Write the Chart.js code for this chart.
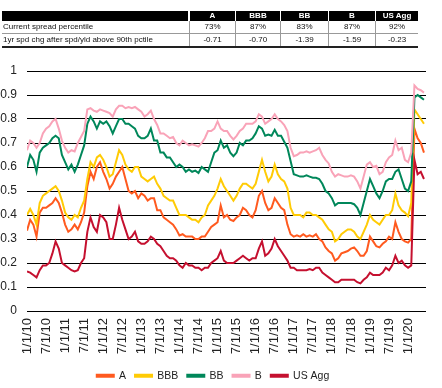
<!DOCTYPE html>
<html>
<head>
<meta charset="utf-8">
<script src="https://cdn.jsdelivr.net/npm/chart.js@4.4.1/dist/chart.umd.min.js"></script>
<style>
  html, body { margin: 0; padding: 0; background: #fff; }
  body { width: 442px; height: 388px; position: relative; overflow: hidden; font-family: "Liberation Sans", Arial, sans-serif; }
  #c { position: absolute; left: 0; top: 0; }
  .cell { position: absolute; font-size: 8px; line-height: 12px; height: 12px; color: #111; white-space: nowrap; }
  .hdr { background: #000; color: #fff; font-weight: bold; text-align: center; height: 10px; line-height: 10px; }
  .num { text-align: center; border-left: 1px solid #999; }
</style>
</head>
<body>
<canvas id="c" width="442" height="388"></canvas>
<div id="tbl"></div>
<script>
// ---- Table data ----
const tableCols = ["A", "BBB", "BB", "B", "US Agg"];
const rowLabels = ["Current spread percentile", "1yr spd chg after spd/yld above 90th pctile"];
const spreadPercentile = ["73%", "87%", "83%", "87%", "92%"];
const spreadChange = ["-0.71", "-0.70", "-1.39", "-1.59", "-0.23"];

// ---- Chart data: monthly readings, Jan 2010 .. Jun 2020 ----
const tickLabels = ["1/1/10","7/1/10","1/1/11","7/1/11","1/1/12","7/1/12","1/1/13","7/1/13","1/1/14","7/1/14",
  "1/1/15","7/1/15","1/1/16","7/1/16","1/1/17","7/1/17","1/1/18","7/1/18","1/1/19","7/1/19","1/1/20"];
const seriesNames = ["A", "BBB", "BB", "B", "US Agg"];

const valsA = [0.335,0.38,0.36,0.31,0.41,0.43,0.43,0.44,0.45,0.47,0.45,0.41,
  0.36,0.33,0.34,0.36,0.34,0.37,0.41,0.52,0.58,0.55,0.60,0.62,
  0.58,0.55,0.51,0.53,0.56,0.58,0.60,0.55,0.50,0.49,0.50,0.47,
  0.49,0.48,0.46,0.47,0.47,0.42,0.42,0.39,0.38,0.37,0.36,0.34,
  0.315,0.32,0.31,0.31,0.31,0.30,0.30,0.31,0.31,0.33,0.35,0.36,
  0.37,0.44,0.39,0.40,0.38,0.375,0.39,0.40,0.43,0.42,0.40,0.39,
  0.42,0.48,0.50,0.45,0.42,0.43,0.47,0.45,0.43,0.42,0.36,0.32,
  0.31,0.315,0.31,0.32,0.31,0.315,0.31,0.32,0.30,0.29,0.265,0.25,
  0.24,0.21,0.22,0.24,0.245,0.25,0.26,0.265,0.25,0.23,0.23,0.25,
  0.31,0.29,0.27,0.265,0.28,0.29,0.31,0.30,0.37,0.33,0.30,0.29,
  0.285,0.30,0.76,0.72,0.70,0.66];
const valsBBB = [0.40,0.425,0.40,0.36,0.45,0.48,0.49,0.50,0.51,0.52,0.50,0.46,
  0.41,0.39,0.38,0.40,0.39,0.43,0.46,0.55,0.62,0.60,0.64,0.65,
  0.63,0.60,0.56,0.57,0.62,0.67,0.65,0.61,0.59,0.58,0.60,0.60,
  0.56,0.55,0.54,0.55,0.56,0.53,0.51,0.48,0.47,0.46,0.46,0.43,
  0.40,0.40,0.40,0.39,0.38,0.38,0.37,0.39,0.40,0.44,0.46,0.48,
  0.51,0.55,0.52,0.50,0.48,0.46,0.48,0.51,0.53,0.53,0.52,0.51,
  0.53,0.58,0.63,0.58,0.54,0.56,0.61,0.57,0.55,0.54,0.51,0.43,
  0.40,0.40,0.40,0.39,0.41,0.41,0.40,0.40,0.39,0.38,0.36,0.34,
  0.33,0.29,0.30,0.32,0.33,0.34,0.34,0.33,0.31,0.30,0.33,0.36,
  0.40,0.38,0.37,0.36,0.38,0.40,0.40,0.42,0.49,0.44,0.42,0.41,
  0.395,0.45,0.84,0.82,0.80,0.78];
const valsBB = [0.60,0.65,0.63,0.58,0.66,0.68,0.69,0.70,0.72,0.73,0.72,0.65,
  0.62,0.59,0.61,0.58,0.61,0.65,0.69,0.78,0.81,0.79,0.76,0.79,
  0.78,0.79,0.77,0.74,0.77,0.80,0.80,0.78,0.78,0.77,0.76,0.73,
  0.72,0.72,0.73,0.76,0.71,0.71,0.66,0.66,0.64,0.64,0.62,0.60,
  0.61,0.60,0.58,0.59,0.58,0.585,0.575,0.60,0.59,0.58,0.62,0.66,
  0.67,0.71,0.68,0.69,0.66,0.645,0.66,0.70,0.69,0.71,0.71,0.72,
  0.74,0.77,0.76,0.73,0.735,0.73,0.755,0.73,0.73,0.705,0.68,0.625,
  0.57,0.565,0.56,0.56,0.565,0.56,0.555,0.555,0.55,0.53,0.50,0.49,
  0.47,0.44,0.45,0.45,0.45,0.45,0.45,0.445,0.43,0.40,0.45,0.50,
  0.55,0.52,0.49,0.47,0.50,0.54,0.55,0.55,0.58,0.59,0.55,0.51,
  0.50,0.54,0.89,0.90,0.89,0.88];
const valsB = [0.67,0.71,0.70,0.68,0.70,0.74,0.76,0.77,0.79,0.80,0.76,0.71,
  0.68,0.66,0.67,0.665,0.70,0.725,0.75,0.84,0.845,0.835,0.83,0.84,
  0.835,0.83,0.825,0.81,0.84,0.855,0.855,0.845,0.85,0.845,0.85,0.84,
  0.83,0.81,0.82,0.835,0.80,0.775,0.74,0.74,0.73,0.72,0.725,0.70,
  0.69,0.71,0.70,0.69,0.695,0.69,0.685,0.70,0.72,0.75,0.75,0.76,
  0.79,0.76,0.75,0.75,0.73,0.715,0.73,0.75,0.76,0.78,0.78,0.78,
  0.79,0.82,0.81,0.78,0.79,0.80,0.82,0.80,0.79,0.775,0.75,0.68,
  0.645,0.65,0.66,0.66,0.665,0.66,0.665,0.67,0.68,0.65,0.63,0.615,
  0.58,0.56,0.57,0.565,0.56,0.56,0.565,0.56,0.54,0.51,0.56,0.61,
  0.62,0.60,0.605,0.57,0.58,0.62,0.64,0.65,0.71,0.67,0.68,0.63,
  0.62,0.66,0.94,0.925,0.92,0.91];
const valsUSAgg = [0.165,0.16,0.15,0.14,0.17,0.19,0.19,0.20,0.24,0.29,0.26,0.20,
  0.19,0.18,0.17,0.165,0.17,0.20,0.22,0.33,0.39,0.35,0.33,0.40,
  0.39,0.37,0.30,0.30,0.36,0.43,0.38,0.34,0.30,0.31,0.33,0.29,
  0.28,0.28,0.29,0.31,0.30,0.28,0.27,0.25,0.23,0.22,0.22,0.21,
  0.19,0.18,0.20,0.19,0.19,0.18,0.18,0.17,0.18,0.18,0.20,0.21,
  0.22,0.25,0.21,0.20,0.20,0.20,0.21,0.22,0.23,0.22,0.21,0.22,
  0.22,0.26,0.29,0.23,0.24,0.26,0.30,0.27,0.25,0.23,0.21,0.18,
  0.18,0.17,0.17,0.17,0.17,0.175,0.17,0.18,0.18,0.16,0.15,0.14,
  0.13,0.12,0.12,0.13,0.13,0.13,0.13,0.13,0.12,0.115,0.13,0.14,
  0.16,0.15,0.15,0.15,0.16,0.18,0.17,0.19,0.23,0.20,0.21,0.19,
  0.18,0.19,0.63,0.57,0.58,0.55];

const seriesColors = ["#FF5A1F", "#FFCB05", "#00875A", "#F9A3B8", "#C5102F"];

// ---- Build table ----
(function buildTable() {
  const t = document.getElementById('tbl');
  const colLeft = [189, 235, 280, 328, 375];
  const colRight = [235, 280, 328, 375, 418];
  function add(cls, text, left, top, width, extra) {
    const d = document.createElement('div');
    d.className = 'cell ' + cls;
    d.textContent = text;
    d.style.left = left + 'px'; d.style.top = top + 'px'; d.style.width = width + 'px';
    if (extra) Object.assign(d.style, extra);
    t.appendChild(d);
  }
  add('hdr', '', 2, 11, 186);
  tableCols.forEach((c, i) => add('hdr', c, colLeft[i] + 1, 11, colRight[i] - colLeft[i] - 1));
  const rows = [spreadPercentile, spreadChange];
  rows.forEach((r, ri) => {
    const top = 21 + ri * 13;
    add('', rowLabels[ri], 2, top, 186, {paddingLeft: '1px'});
    r.forEach((v, i) => add('num', v, colLeft[i], top, colRight[i] - colLeft[i] - 1));
  });
  const sep = document.createElement('div');
  Object.assign(sep.style, {position: 'absolute', left: '2px', top: '33px', width: '416px', height: '1px', background: '#999'});
  t.appendChild(sep);
  const bot = document.createElement('div');
  Object.assign(bot.style, {position: 'absolute', left: '2px', top: '46px', width: '416px', height: '1.5px', background: '#222'});
  t.appendChild(bot);
})();

// ---- Chart ----
const allVals = [valsA, valsBBB, valsBB, valsB, valsUSAgg];
const datasets = allVals.map((vals, k) => ({
  label: seriesNames[k],
  data: vals.map((v, i) => ({ x: i / 12, y: v })),
  borderColor: seriesColors[k],
  backgroundColor: seriesColors[k],
  borderWidth: 2,
  pointRadius: 0,
  tension: 0,
  order: 4 - k
}));

new Chart(document.getElementById('c'), {
  type: 'line',
  data: { datasets },
  options: {
    responsive: false,
    animation: false,
    devicePixelRatio: 1,
    layout: { padding: { top: 71, right: 16, left: 0, bottom: -3 } },
    plugins: {
      tooltip: { enabled: false },
      legend: {
        position: 'bottom',
        labels: {
          boxWidth: 17, boxHeight: 2,
          color: '#222',
          font: { family: 'Liberation Sans', size: 10.5 },
          padding: 9,
          sort: (a, b) => a.datasetIndex - b.datasetIndex
        }
      }
    },
    scales: {
      x: {
        type: 'linear',
        min: 0, max: 10.47,
        afterFit: (s) => { s.height = 50.5; },
        grid: { display: false, drawTicks: false },
        border: { display: false },
        afterBuildTicks: (s) => { s.ticks = tickLabels.map((_, i) => ({ value: i * 0.5 })); },
        ticks: {
          autoSkip: false,
          maxRotation: 90, minRotation: 90,
          padding: 7,
          color: '#222',
          font: { family: 'Liberation Sans', size: 13 },
          callback: (v, i) => tickLabels[i]
        }
      },
      y: {
        min: 0, max: 1,
        afterFit: (s) => { s.width = 27; },
        grid: { color: '#000', lineWidth: 1, drawTicks: false },
        border: { display: false },
        ticks: {
          stepSize: 0.1,
          padding: 10,
          color: '#222',
          font: { family: 'Liberation Sans', size: 12 },
          callback: (v) => String(+v.toFixed(1))
        }
      }
    }
  }
});
</script>
</body>
</html>
